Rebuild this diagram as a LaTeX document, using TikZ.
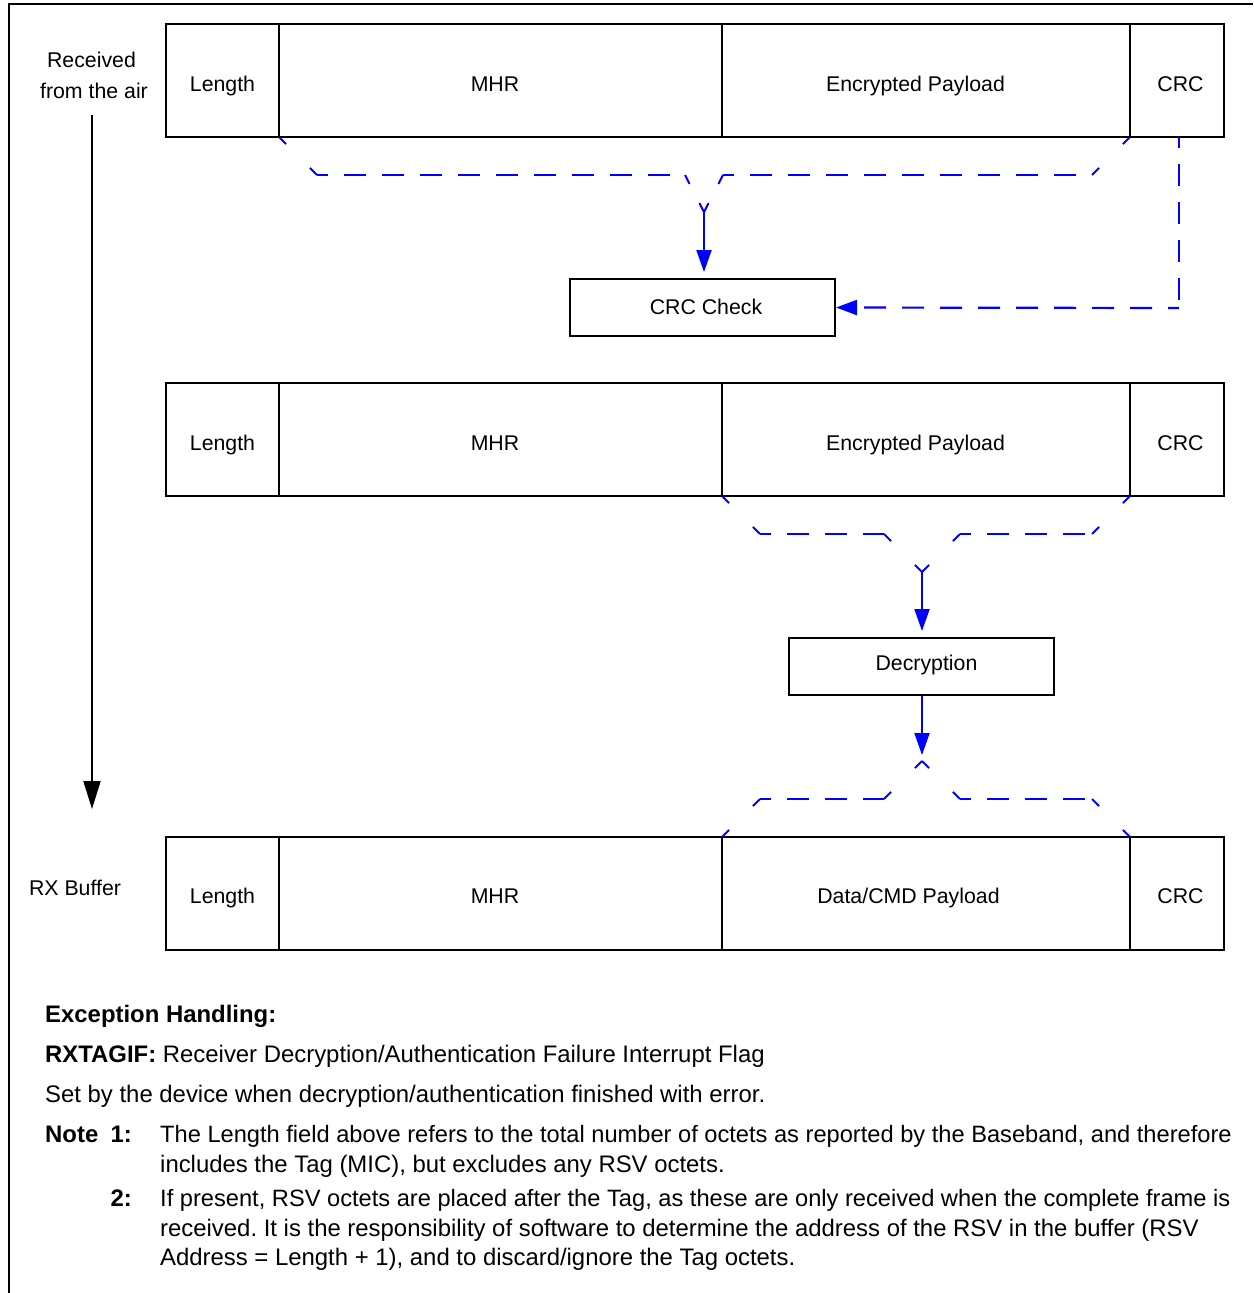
\documentclass[tikz,border=0pt]{standalone}
\usepackage{fontspec}
\setmainfont{Liberation Sans}
\usetikzlibrary{arrows.meta}
\definecolor{lineblue}{RGB}{0,0,255}
\frenchspacing
\tikzset{
  cell/.style={draw, line width=2pt, inner sep=0pt, minimum height=113pt},
  lbl/.style={inner sep=0pt, text height=15.25pt, text depth=0pt, font=\fontsize{21.3}{25}\selectfont},
  body/.style={inner sep=0pt, anchor=base west, font=\fontsize{23.9}{30}\selectfont},
  notetxt/.style={inner sep=0pt, anchor=base west, font=\fontsize{23.65}{30}\selectfont},
  bodyr/.style={inner sep=0pt, anchor=base east, font=\fontsize{23.9}{30}\selectfont\bfseries},
  procbox/.style={draw, line width=2pt, inner sep=0pt, minimum width=265pt, minimum height=57pt},
  dsh/.style={lineblue, line width=2.2pt, dash pattern=on 22pt off 16pt, dash phase=11pt},
  dg/.style={lineblue, line width=2pt, dash pattern=on 10pt off #1pt},
  bluearrow/.style={lineblue, line width=2pt, -{Triangle[length=22pt,width=15pt]}},
  blackarrow/.style={black, line width=2pt, -{Triangle[length=28pt,width=17pt]}},
  frame/.style={black, line width=2.5pt}
}
\begin{document}
\begin{tikzpicture}[x=1pt,y=-1pt]
\useasboundingbox (0,0) rectangle (1253,1293);
\fill[white] (0,0) rectangle (1253,1293);
% outer frame
\coordinate (fbl) at (9,1293);
\coordinate (ftl) at (9,4);
\coordinate (ftr) at (1253,4);
\draw[frame] (fbl) -- (ftl) -- (ftr);

% row 1
\node[cell, minimum width=113pt] (len1) at (222.5,80.5) {};
\node[cell, minimum width=443pt] (mhr1) at (500.5,80.5) {};
\node[cell, minimum width=408pt] (enc1) at (926,80.5) {};
\node[cell, minimum width=94pt] (crc1) at (1177,80.5) {};
\node[lbl] (tlen1) at (222.5,84) {Length};
\node[lbl] (tmhr1) at (495,84) {MHR};
\node[lbl] (tenc1) at (915.5,84) {Encrypted Payload};
\node[lbl] (tcrc1) at (1180.5,84) {CRC};

% row 2
\node[cell, minimum width=113pt] (len2) at (222.5,439.5) {};
\node[cell, minimum width=443pt] (mhr2) at (500.5,439.5) {};
\node[cell, minimum width=408pt] (enc2) at (926,439.5) {};
\node[cell, minimum width=94pt] (crc2) at (1177,439.5) {};
\node[lbl] (tlen2) at (222.5,443) {Length};
\node[lbl] (tmhr2) at (495,443) {MHR};
\node[lbl] (tenc2) at (915.5,443) {Encrypted Payload};
\node[lbl] (tcrc2) at (1180.5,443) {CRC};

% row 3
\node[cell, minimum width=113pt] (len3) at (222.5,893.5) {};
\node[cell, minimum width=443pt] (mhr3) at (500.5,893.5) {};
\node[cell, minimum width=408pt] (enc3) at (926,893.5) {};
\node[cell, minimum width=94pt] (crc3) at (1177,893.5) {};
\node[lbl] (tlen3) at (222.5,896) {Length};
\node[lbl] (tmhr3) at (495,896) {MHR};
\node[lbl] (tenc3) at (908.5,896) {Data/CMD Payload};
\node[lbl] (tcrc3) at (1180.5,896) {CRC};

% process boxes
\node[procbox] (crcchk) at (702.5,307.5) {};
\node[lbl] (tcrcchk) at (706,307) {CRC Check};
\node[procbox] (decr) at (921.5,666.5) {};
\node[lbl] (tdecr) at (926.5,663) {Decryption};

% left labels
\node[lbl] (recv) at (91.5,60) {Received};
\node[lbl] (recv2) at (94,91) {from the air};
\node[lbl] (rxbuf) at (75,888) {RX Buffer};
\coordinate (axs) at (92,115);
\coordinate (axe) at (92,809);
\draw[blackarrow] (axs) -- (axe);

% brace 1 (under MHR + Encrypted Payload)
\coordinate (b1a) at (279,137);
\coordinate (b1b) at (317,175);
\coordinate (b1c) at (685,175);
\coordinate (b1t) at (704,212);
\coordinate (b1d) at (723,175);
\coordinate (b1e) at (1092,175);
\coordinate (b1f) at (1130,137);
\draw[dg=33.7] (b1a) -- (b1b);
\draw[dsh] (b1b) -- (b1c);
\draw[dg=21.6] (b1c) -- (b1t);
\draw[dg=21.6] (b1t) -- (b1d);
\draw[dsh] (b1d) -- (b1e);
\draw[dg=33.7] (b1e) -- (b1f);
\draw[bluearrow, shorten >=6pt] (b1t) -- (crcchk.north -| b1t);

% CRC dashed connector
\coordinate (crcs) at (1179,137);
\coordinate (crcc) at (1179,308);
\draw[dsh] (crcs) -- (crcc);
\draw[lineblue, line width=2.2pt, dash pattern=on 22pt off 16pt, dash phase=11pt, -{Triangle[length=21pt,width=15pt]}] (crcc) -- (crcchk.east);

% brace 2 (under Encrypted Payload)
\coordinate (b2a) at (722,496);
\coordinate (b2b) at (760,534);
\coordinate (b2c) at (884,534);
\coordinate (b2t) at (922,572);
\coordinate (b2d) at (960,534);
\coordinate (b2e) at (1092,534);
\coordinate (b2f) at (1130,496);
\draw[dg=33.7] (b2a) -- (b2b);
\draw[dsh] (b2b) -- (b2c);
\draw[dg=33.7] (b2c) -- (b2t);
\draw[dg=33.7] (b2t) -- (b2d);
\draw[dsh] (b2d) -- (b2e);
\draw[dg=33.7] (b2e) -- (b2f);
\draw[bluearrow, shorten >=6pt] (b2t) -- (decr.north -| b2t);

% brace 3 (above Data/CMD Payload)
\coordinate (b3a) at (722,837);
\coordinate (b3b) at (760,799);
\coordinate (b3c) at (884,799);
\coordinate (b3t) at (922,761);
\coordinate (b3d) at (960,799);
\coordinate (b3e) at (1092,799);
\coordinate (b3f) at (1130,837);
\draw[dg=33.7] (b3a) -- (b3b);
\draw[dsh] (b3b) -- (b3c);
\draw[dg=33.7] (b3c) -- (b3t);
\draw[dg=33.7] (b3t) -- (b3d);
\draw[dsh] (b3d) -- (b3e);
\draw[dg=33.7] (b3e) -- (b3f);
\draw[bluearrow, shorten >=6pt] (decr.south -| b3t) -- (b3t);

% text block
\node[body] (exh) at (45,1022.5) {\bfseries Exception Handling:};
\node[body] (rxt) at (45,1062.5) {\textbf{RXTAGIF:} Receiver Decryption/Authentication Failure Interrupt Flag};
\node[body] (setby) at (45,1102.5) {Set by the device when decryption/authentication finished with error.};
\node[body] (note) at (45,1142.5) {\bfseries Note};
\node[bodyr] (n1) at (132,1142.5) {1:};
\node[notetxt] (n1a) at (160,1142.5) {The Length field above refers to the total number of octets as reported by the Baseband, and therefore};
\node[body] (n1b) at (160,1172.5) {includes the Tag (MIC), but excludes any RSV octets.};
\node[bodyr] (n2) at (132,1206.5) {2:};
\node[notetxt] (n2a) at (160,1206.5) {If present, RSV octets are placed after the Tag, as these are only received when the complete frame is};
\node[body] (n2b) at (160,1236.5) {received. It is the responsibility of software to determine the address of the RSV in the buffer (RSV};
\node[body] (n2c) at (160,1265.5) {Address = Length + 1), and to discard/ignore the Tag octets.};
\end{tikzpicture}
\end{document}
